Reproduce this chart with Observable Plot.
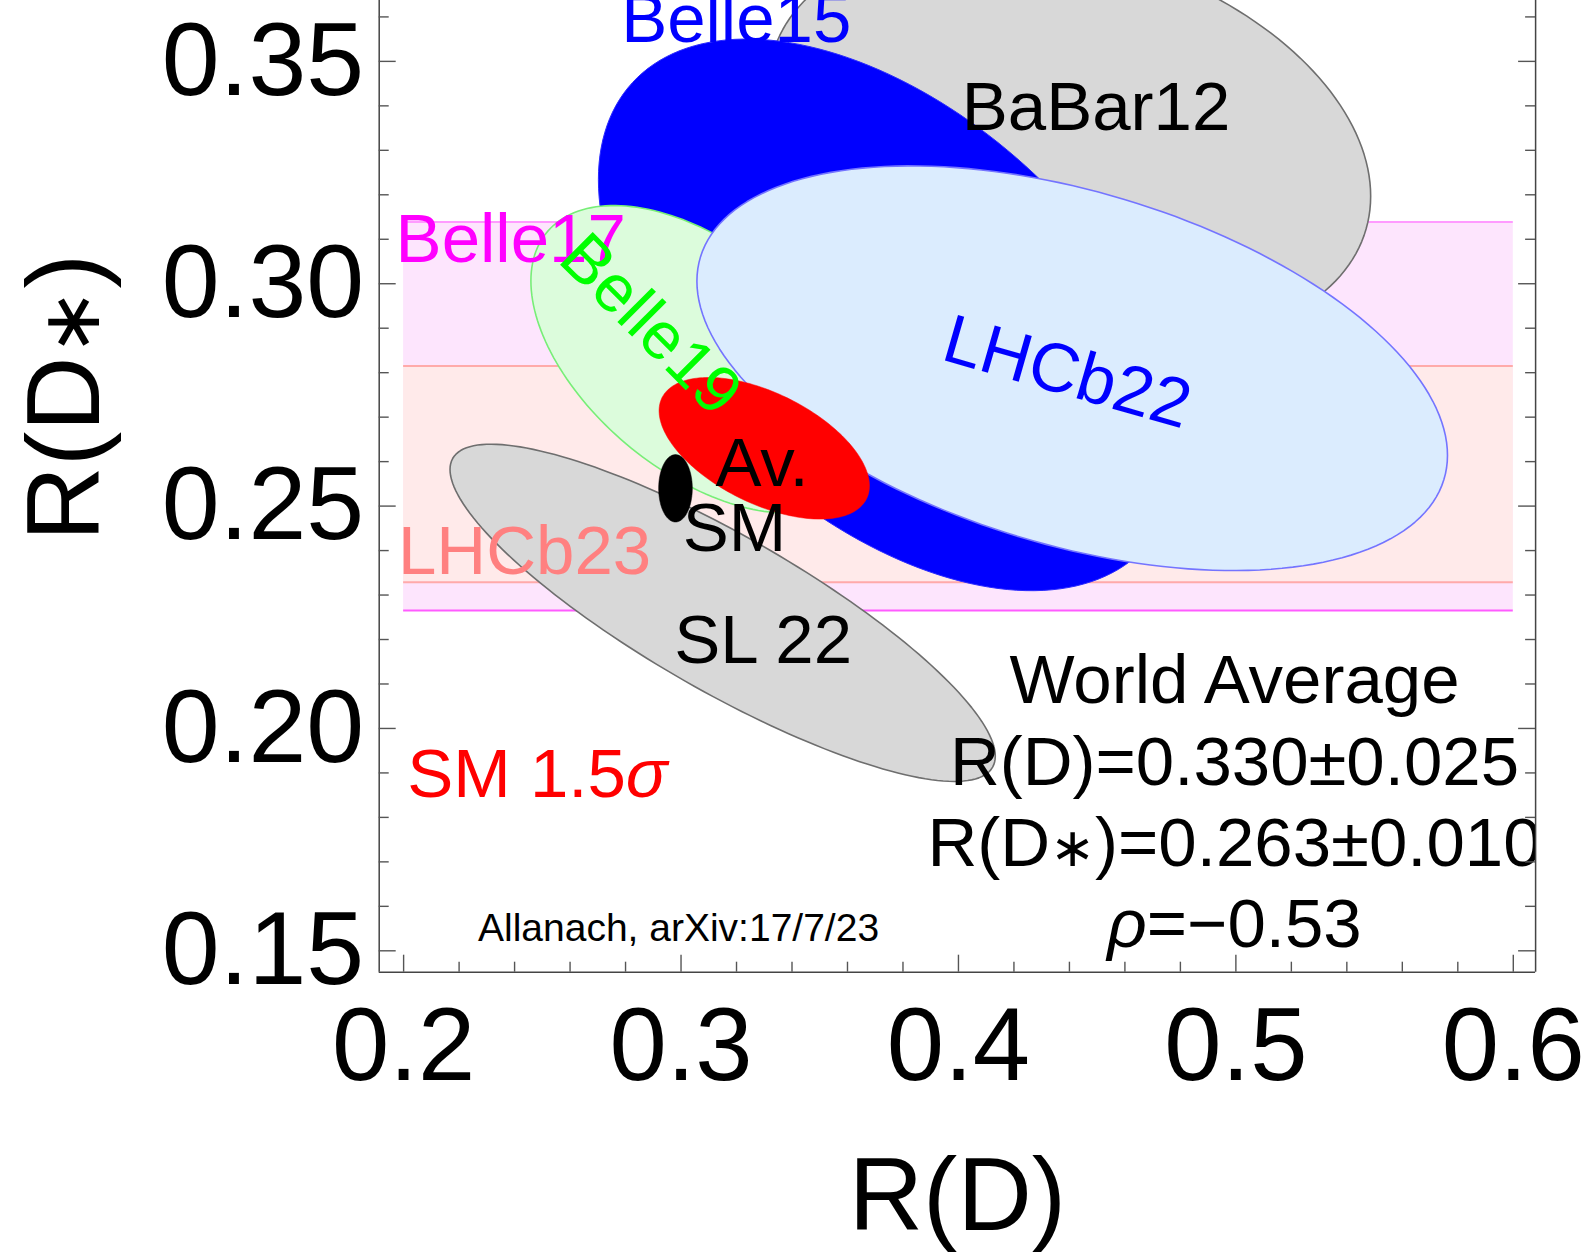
<!DOCTYPE html>
<html><head><meta charset="utf-8">
<script src="https://cdn.jsdelivr.net/npm/d3@7"></script>
<script src="https://cdn.jsdelivr.net/npm/@observablehq/plot@0.6"></script>
<style>
html,body{margin:0;padding:0;background:#fff;overflow:hidden;}
#chart svg{display:block;}
</style></head><body><div id="chart"></div>
<script>
// ---------------- data ----------------
const ellipseNames = ["BaBar12", "Belle15", "SL 22", "Belle19", "LHCb22", "Av.", "SM"];
const centerRD  = [0.440, 0.375, 0.315, 0.307, 0.441, 0.330, 0.298];
const centerRDs = [0.332, 0.293, 0.226, 0.283, 0.281, 0.263, 0.254];
const sigmaRD   = [0.0716, 0.0691, 0.0648, 0.0403, 0.0892, 0.025, 0.004];
const sigmaRDs  = [0.030, 0.0409, 0.025, 0.0228, 0.030, 0.0105, 0.005];
const corr      = [-0.27, -0.49, -0.85, -0.51, -0.43, -0.53, 0.0];
const deltaChi2 = 2.30;

const bandNames = ["Belle17", "LHCb23"];
const bandLow   = [0.2265, 0.2329];
const bandHigh  = [0.3139, 0.2815];
const bandRD    = [0.2, 0.6];

const xMajorTicks = [0.2, 0.3, 0.4, 0.5, 0.6];
const xMinorTicks = [0.22, 0.24, 0.26, 0.28, 0.32, 0.34, 0.36, 0.38, 0.42, 0.44, 0.46, 0.48, 0.52, 0.54, 0.56, 0.58];
const yMajorTicks = [0.15, 0.20, 0.25, 0.30, 0.35];
const yMinorTicks = [0.16, 0.17, 0.18, 0.19, 0.21, 0.22, 0.23, 0.24, 0.26, 0.27, 0.28, 0.29, 0.31, 0.32, 0.33, 0.34, 0.36];

const worldAverage = ["World Average", "R(D)=0.330±0.025", "R(D\u2217)=0.263±0.010", "ρ=\u22120.53"];
const credit = "Allanach, arXiv:17/7/23";

// ---------------- helpers ----------------
const xDom = [0.1912, 0.60804];
const yDom = [0.14519, 0.36369];
const FONT = "'Liberation Sans', Arial, Helvetica, sans-serif";

function ellipsePoints(i) {
  const k = Math.sqrt(deltaChi2), r = corr[i], n = 180;
  return d3.range(n).map(j => {
    const t = 2 * Math.PI * j / n;
    return {
      x: centerRD[i] + k * sigmaRD[i] * Math.cos(t),
      y: centerRDs[i] + k * sigmaRDs[i] * (r * Math.cos(t) + Math.sqrt(1 - r * r) * Math.sin(t))
    };
  });
}
const ellipseStyle = {
  "BaBar12": {fill: "#d8d8d8", stroke: "#6e6e6e", strokeWidth: 1.6},
  "Belle15": {fill: "#0000ff", stroke: "#2a2aff", strokeWidth: 1},
  "SL 22":   {fill: "#d8d8d8", stroke: "#6e6e6e", strokeWidth: 1.6},
  "Belle19": {fill: "#dcfcdc", stroke: "#77ee77", strokeWidth: 1.6},
  "LHCb22":  {fill: "#dbecfe", stroke: "#7474ff", strokeWidth: 1.6},
  "Av.":     {fill: "#ff0000", stroke: "#ff0000", strokeWidth: 0.5},
  "SM":      {fill: "#000000", stroke: "#000000", strokeWidth: 0.5}
};
const bandStyle = {
  "Belle17": {fill: "#fde5fd", top: "#ff9bff", bottom: "#ff5cff"},
  "LHCb23":  {fill: "#ffeaea", top: "#ffaaaa", bottom: "#ffaaaa"}
};
const bands = bandNames.map((name, i) => ({name, lo: bandLow[i], hi: bandHigh[i], x1: bandRD[0], x2: bandRD[1]}));

const marks = [];
// bands
for (const b of bands) {
  const s = bandStyle[b.name];
  marks.push(Plot.rect([b], {x1: "x1", x2: "x2", y1: "lo", y2: "hi", fill: s.fill}));
  marks.push(Plot.ruleY([b], {y: "hi", x1: "x1", x2: "x2", stroke: s.top, strokeWidth: 2}));
  marks.push(Plot.ruleY([b], {y: "lo", x1: "x1", x2: "x2", stroke: s.bottom, strokeWidth: 2}));
}
// ellipses
ellipseNames.forEach((name, i) => {
  const s = ellipseStyle[name];
  marks.push(Plot.line(ellipsePoints(i), {x: "x", y: "y", curve: "linear-closed", fill: s.fill, stroke: s.stroke, strokeWidth: s.strokeWidth}));
});

// labels
const lab = (t, x, y, o) => Plot.text([t], Object.assign({x: () => x, y: () => y, text: d => d, fontSize: 69, lineAnchor: "bottom", fill: "black"}, o));
marks.push(lab("Belle15", 0.3199, 0.3543, {fill: "#0000ff"}));
marks.push(lab("BaBar12", 0.4496, 0.3345, {}));
marks.push(lab("Belle17", 0.2386, 0.3048, {fill: "#ff00ff"}));
marks.push(lab("Belle19", 0.2890, 0.2908, {fill: "#00ff00", rotate: 45, lineAnchor: "middle", fontSize: 67}));
marks.push(lab("LHCb22", 0.4392, 0.2800, {fill: "#0000ff", rotate: 16, lineAnchor: "middle"}));
marks.push(lab("LHCb23", 0.2436, 0.2348, {fill: "#ff8080"}));
marks.push(lab("Av.", 0.3292, 0.2546, {}));
marks.push(lab("SM", 0.3193, 0.2400, {}));
marks.push(lab("SL 22", 0.3296, 0.2148, {}));
marks.push(lab("SM 1.5σ", 0.2013, 0.1845, {fill: "#ff0000", textAnchor: "start"}));
marks.push(lab(worldAverage.join("\n"), 0.4995, 0.1508, {lineHeight: 1.178, clip: true}));
marks.push(lab(credit, 0.2991, 0.15216, {fontSize: 39}));

// frame
marks.push(Plot.ruleX([xDom[0], xDom[1]], {x: d => d, stroke: "#444", strokeWidth: 1.5}));
marks.push(Plot.ruleY([yDom[0]], {y: d => d, stroke: "#444", strokeWidth: 1.5}));
// inward ticks
const tk = "#555";
for (const [vals, len] of [[yMajorTicks, 17], [yMinorTicks, 10]]) {
  marks.push(Plot.ruleY(vals, {y: d => d, x1: () => xDom[0], x2: () => xDom[0], insetRight: -len, stroke: tk, strokeWidth: 1.4}));
  marks.push(Plot.ruleY(vals, {y: d => d, x1: () => xDom[1], x2: () => xDom[1], insetLeft: -len, stroke: tk, strokeWidth: 1.4}));
}
for (const [vals, len] of [[xMajorTicks, 17], [xMinorTicks, 10]]) {
  marks.push(Plot.ruleX(vals, {x: d => d, y1: () => yDom[0], y2: () => yDom[0], insetTop: -len, stroke: tk, strokeWidth: 1.4}));
}
// tick labels
marks.push(Plot.text(xMajorTicks, {x: d => d, frameAnchor: "bottom", lineAnchor: "top", dy: 35, fontSize: 103, text: d => d.toFixed(1), fill: "black"}));
marks.push(Plot.text(yMajorTicks, {y: d => d, frameAnchor: "left", textAnchor: "end", lineAnchor: "middle", dx: -15, fontSize: 104, text: d => d.toFixed(2), fill: "black"}));
// axis titles
marks.push(Plot.text(["R(D)"], {frameAnchor: "bottom", lineAnchor: "bottom", dy: 258, fontSize: 103, text: d => d, fill: "black"}));
marks.push(Plot.text(["R(D\u2217)"], {frameAnchor: "left", textAnchor: "middle", y: () => 0.2744, dx: -280.7, rotate: -90, lineAnchor: "bottom", fontSize: 104, text: d => d, fill: "black"}));

const svg = Plot.plot({
  width: 1592, height: 1255,
  marginLeft: 378.7, marginRight: 56.9, marginTop: 0, marginBottom: 283.3,
  x: {domain: xDom, axis: null},
  y: {domain: yDom, axis: null},
  style: {fontFamily: FONT, background: "white"},
  marks
});

// italic Greek letters (σ, ρ) and a smaller asterisk operator, as in the original
const NS = "http://www.w3.org/2000/svg";
svg.querySelectorAll("text, tspan").forEach(el => {
  for (const node of Array.from(el.childNodes)) {
    if (node.nodeType === 3 && /[σρ\u2217]/.test(node.nodeValue)) {
      const frag = document.createDocumentFragment();
      for (const p of node.nodeValue.split(/([σρ\u2217])/)) {
        if (!p) continue;
        if (p === "σ" || p === "ρ") {
          const t = document.createElementNS(NS, "tspan");
          t.setAttribute("font-style", "italic");
          t.textContent = p;
          frag.appendChild(t);
        } else if (p === "\u2217") {
          const t = document.createElementNS(NS, "tspan");
          t.setAttribute("style", "font-size:78%");
          t.textContent = p;
          frag.appendChild(t);
        } else frag.appendChild(document.createTextNode(p));
      }
      el.replaceChild(frag, node);
    }
  }
});
document.getElementById("chart").appendChild(svg);
</script></body></html>
